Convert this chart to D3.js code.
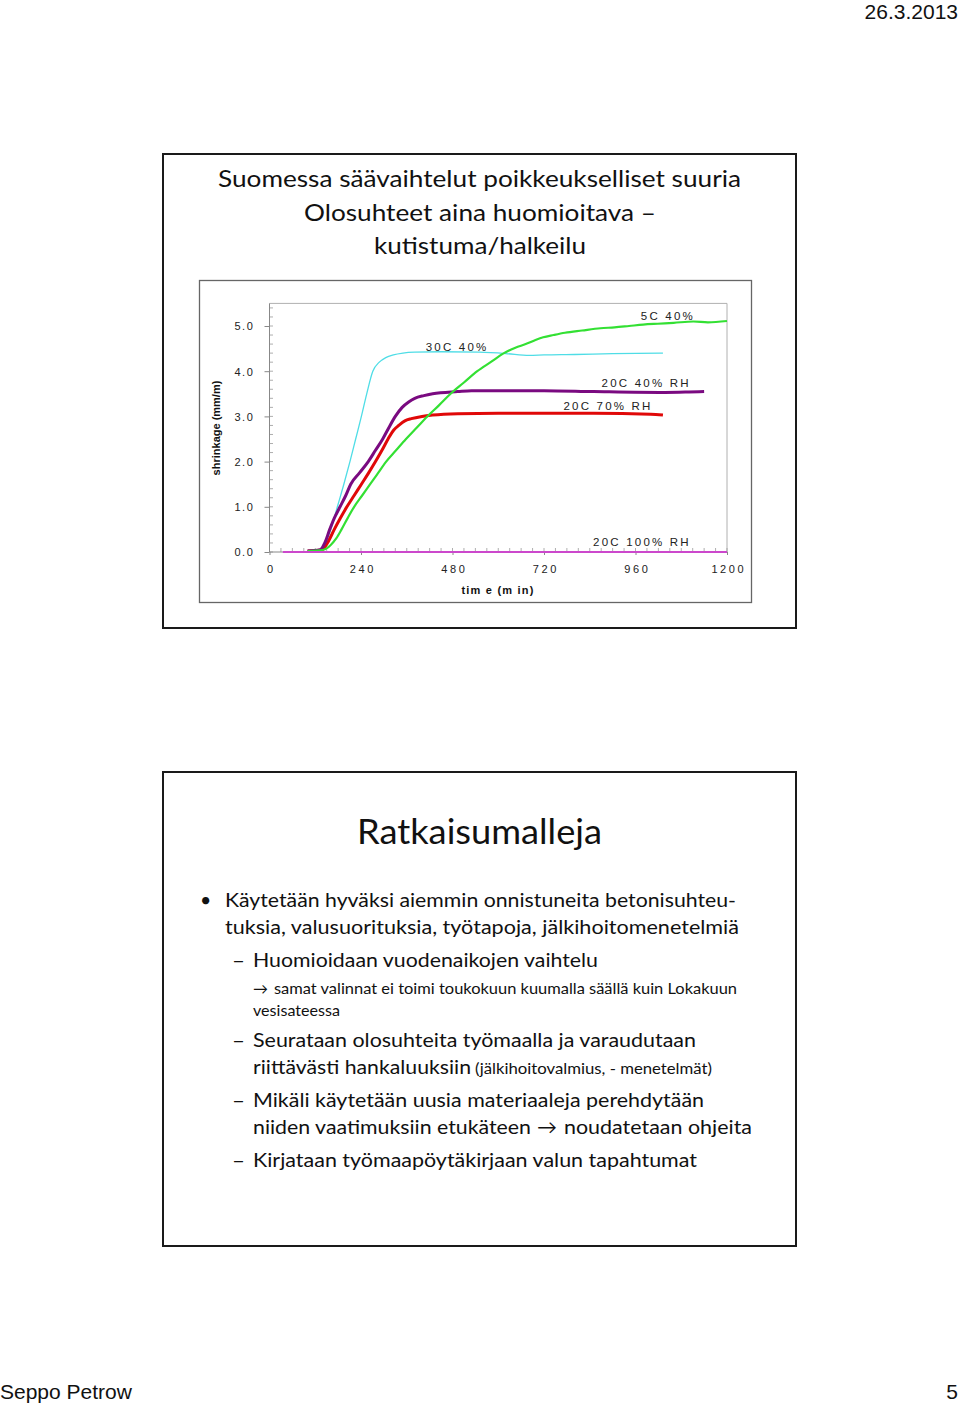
<!DOCTYPE html>
<html><head><meta charset="utf-8">
<script src="https://cdn.jsdelivr.net/npm/d3@7"></script>
<style>body{margin:0;background:#fff} svg{display:block}</style>
</head><body>
<svg id="c" width="960" height="1403"></svg>
<script>
// ---------- chart data ----------
const xTicks = [0, 240, 480, 720, 960, 1200];
const yTicks = [0, 1, 2, 3, 4, 5];
const xTickLabels = ["0", "240", "480", "720", "960", "1200"];
const yTickLabels = ["0.0", "1.0", "2.0", "3.0", "4.0", "5.0"];

const t30C40 = [100,130,142,152,161,178,195,211,226,241,255,271,288,305,325,350,381,450,550,620,681,720,800,900,1032];
const v30C40 = [0.02,0.03,0.1,0.3,0.5,1.0,1.5,2.0,2.5,3.0,3.5,4.0,4.2,4.3,4.36,4.4,4.42,4.43,4.42,4.39,4.35,4.36,4.37,4.39,4.40];

const t20C40 = [100,133,145,158,170,185,200,213,236,259,278,297,313,330,348,365,381,405,428,494,530,720,850,1037,1100,1140];
const v20C40 = [0.02,0.05,0.2,0.5,0.75,1.0,1.25,1.5,1.75,2.0,2.25,2.5,2.75,3.0,3.2,3.32,3.4,3.46,3.5,3.55,3.57,3.57,3.55,3.53,3.54,3.55];

const t20C70 = [100,138,152,170,186,203,222,241,260,278,295,311,326,339,355,372,400,428,494,600,850,1000,1032];
const v20C70 = [0.02,0.05,0.2,0.5,0.75,1.0,1.25,1.5,1.75,2.0,2.25,2.5,2.7,2.8,2.9,2.95,3.0,3.03,3.06,3.07,3.07,3.05,3.03];

const t5C40 = [100,142,160,175,189,205,222,243,264,285,306,332,358,386,414,445,475,510,545,580,615,645,672,695,718,745,775,820,868,905,943,980,1018,1060,1112,1150,1200];
const v5C40 = [0.02,0.05,0.15,0.3,0.5,0.75,1.0,1.25,1.5,1.75,2.0,2.25,2.5,2.75,3.0,3.25,3.5,3.75,4.0,4.2,4.4,4.52,4.6,4.68,4.75,4.8,4.85,4.9,4.95,4.97,5.0,5.03,5.05,5.07,5.1,5.08,5.11];

const t20C100 = [35, 1200];
const v20C100 = [0, 0];

const seriesNames = ["30C 40%", "20C 70% RH", "20C 40% RH", "5C 40%", "20C 100% RH"];
const seriesColors = ["#4fdde6", "#e00808", "#7a0a80", "#33e033", "#cc48cc"];
const seriesT = [t30C40, t20C70, t20C40, t5C40, t20C100];
const seriesV = [v30C40, v20C70, v20C40, v5C40, v20C100];
const labelT = [492, 888, 988, 1045, 977];
const labelV = [4.54, 3.23, 3.74, 5.22, 0.22];

// ---------- page ----------
const svg = d3.select("#c");
const FONT = "Lato, 'Open Sans', sans-serif";
const ARIAL = "'Liberation Sans', Arial, sans-serif";

svg.append("text").attr("x", 958).attr("y", 18.5).attr("text-anchor", "end")
  .attr("font-family", ARIAL).attr("font-size", 21).attr("fill", "#111").text("26.3.2013");
svg.append("text").attr("x", 0).attr("y", 1398.5)
  .attr("font-family", ARIAL).attr("font-size", 21).attr("fill", "#111").text("Seppo Petrow");
svg.append("text").attr("x", 958).attr("y", 1398.5).attr("text-anchor", "end")
  .attr("font-family", ARIAL).attr("font-size", 21).attr("fill", "#111").text("5");

// slide boxes
[[163, 154, 633, 474], [163, 772, 633, 474]].forEach(b => {
  svg.append("rect").attr("x", b[0]).attr("y", b[1]).attr("width", b[2]).attr("height", b[3])
    .attr("fill", "none").attr("stroke", "#1a1a1a").attr("stroke-width", 2);
});

// slide 1 title
const titleLines = [
  ["Suomessa säävaihtelut poikkeukselliset suuria", 218, 187, 523],
  ["Olosuhteet aina huomioitava –", 304, 220.5, 352],
  ["kutistuma/halkeilu", 374, 254, 212]
];
titleLines.forEach(l => {
  svg.append("text").attr("x", l[1]).attr("y", l[2]).attr("font-family", FONT).attr("font-size", 24)
    .attr("fill", "#111").attr("textLength", l[3]).attr("lengthAdjust", "spacingAndGlyphs").text(l[0]);
});

// chart frame
svg.append("rect").attr("x", 199.5).attr("y", 280.5).attr("width", 552).attr("height", 322)
  .attr("fill", "#fff").attr("stroke", "#666").attr("stroke-width", 1.3);

const x = d3.scaleLinear().domain([0, 1200]).range([269.5, 727]);
const y = d3.scaleLinear().domain([0, 5.5]).range([552, 303.4]);

const g = svg.append("g");
g.append("line").attr("x1", x(0)).attr("x2", x(1200)).attr("y1", y(5.5)).attr("y2", y(5.5)).attr("stroke", "#b0b0b0");
g.append("line").attr("x1", x(1200)).attr("x2", x(1200)).attr("y1", y(5.5)).attr("y2", y(0)).attr("stroke", "#b0b0b0");

const xMinor = d3.range(0, 1201, 30);
const yMinor = d3.range(0, 5.51, 0.2);
g.selectAll(".xm").data(xMinor).join("line").attr("x1", d => x(d)).attr("x2", d => x(d))
  .attr("y1", y(0)).attr("y2", y(0) - 4).attr("stroke", "#999").attr("stroke-width", 0.8);
g.selectAll(".ym").data(yMinor).join("line").attr("x1", x(0)).attr("x2", x(0) + 3.5)
  .attr("y1", d => y(d)).attr("y2", d => y(d)).attr("stroke", "#999").attr("stroke-width", 0.8);

const xAxis = g.append("g").attr("transform", `translate(0,${y(0)})`)
  .call(d3.axisBottom(x).tickValues(xTicks).tickFormat((d, i) => xTickLabels[i]).tickSize(3).tickPadding(10));
const yAxis = g.append("g").attr("transform", `translate(${x(0)},0)`)
  .call(d3.axisLeft(y).tickValues(yTicks).tickFormat((d, i) => yTickLabels[i]).tickSize(5).tickPadding(10));
[xAxis, yAxis].forEach(a => {
  a.select(".domain").attr("stroke", "#888");
  a.selectAll(".tick line").attr("stroke", "#888");
  a.selectAll("text").attr("font-family", ARIAL).attr("font-size", 11).attr("fill", "#222");
});
xAxis.selectAll("text").style("letter-spacing", "2.6px").attr("dx", "1.3px");
yAxis.selectAll("text").style("letter-spacing", "1.6px").attr("dy", "0.36em");
yAxis.select(".domain").attr("d", `M0,${y(5.5)}V${y(0)}`);
xAxis.select(".domain").attr("d", `M${x(0)},0H${x(1200)}`);

svg.append("text").attr("transform", `translate(219.5,428) rotate(-90)`).attr("text-anchor", "middle")
  .attr("font-family", ARIAL).attr("font-size", 11).attr("font-weight", "bold").attr("fill", "#111")
  .text("shrinkage (mm/m)");
svg.append("text").attr("x", 498).attr("y", 594).attr("text-anchor", "middle")
  .attr("font-family", ARIAL).attr("font-size", 11).attr("font-weight", "bold").attr("fill", "#111")
  .style("letter-spacing", "1.2px").text("tim e  (m in)");

const widths = [1.3, 3, 3, 2.2, 1.8];
const line = d3.line().x(d => x(d[0])).y(d => y(d[1])).curve(d3.curveMonotoneX);
seriesNames.forEach((n, i) => {
  const pts = seriesT[i].map((t, j) => [t, seriesV[i][j]]);
  g.append("path").datum(pts).attr("d", line).attr("fill", "none")
    .attr("stroke", seriesColors[i]).attr("stroke-width", widths[i]).attr("stroke-linejoin", "round");
});
seriesNames.forEach((n, i) => {
  g.append("text").attr("x", x(labelT[i])).attr("y", y(labelV[i])).attr("dy", "0.36em")
    .attr("text-anchor", "middle").attr("font-family", ARIAL).attr("font-size", 11.5).attr("fill", "#222")
    .style("letter-spacing", "2.2px").text(n);
});

// slide 2
svg.append("text").attr("x", 357).attr("y", 844).attr("font-family", FONT).attr("font-size", 34)
  .attr("fill", "#111").attr("textLength", 245).attr("lengthAdjust", "spacingAndGlyphs").text("Ratkaisumalleja");

const bodyLines = [
  ["•", 200, 906.5, 19.5, null],
  ["Käytetään hyväksi aiemmin onnistuneita betonisuhteu-", 225, 906.5, 19.5, 511],
  ["tuksia, valusuorituksia, työtapoja, jälkihoitomenetelmiä", 225, 934, 19.5, 514],
  ["–", 232, 966.5, 19.5, 13],
  ["Huomioidaan vuodenaikojen vaihtelu", 253, 966.5, 19.5, 345],
  ["→", 253, 994, 15, 15],
  ["samat valinnat ei toimi toukokuun kuumalla säällä kuin Lokakuun", 274, 994, 15, 463],
  ["vesisateessa", 253, 1015.5, 15, 87],
  ["–", 232, 1046.5, 19.5, 13],
  ["Seurataan olosuhteita työmaalla ja varaudutaan", 253, 1046.5, 19.5, 443],
  ["riittävästi hankaluuksiin", 253, 1074, 19.5, 218],
  ["(jälkihoitovalmius, - menetelmät)", 475, 1074, 15, 237],
  ["–", 232, 1106.5, 19.5, 13],
  ["Mikäli käytetään uusia materiaaleja perehdytään", 253, 1106.5, 19.5, 451],
  ["niiden vaatimuksiin etukäteen", 253, 1134, 19.5, 278],
  ["→", 537, 1134, 19.5, 20],
  ["noudatetaan ohjeita", 564, 1134, 19.5, 188],
  ["–", 232, 1166.5, 19.5, 13],
  ["Kirjataan työmaapöytäkirjaan valun tapahtumat", 253, 1166.5, 19.5, 444]
];
bodyLines.forEach(l => {
  const t = svg.append("text").attr("x", l[1]).attr("y", l[2]).attr("font-family", FONT)
    .attr("font-size", l[3]).attr("fill", "#111").text(l[0]);
  if (l[4]) t.attr("textLength", l[4]).attr("lengthAdjust", "spacingAndGlyphs");
});
</script>
</body></html>
